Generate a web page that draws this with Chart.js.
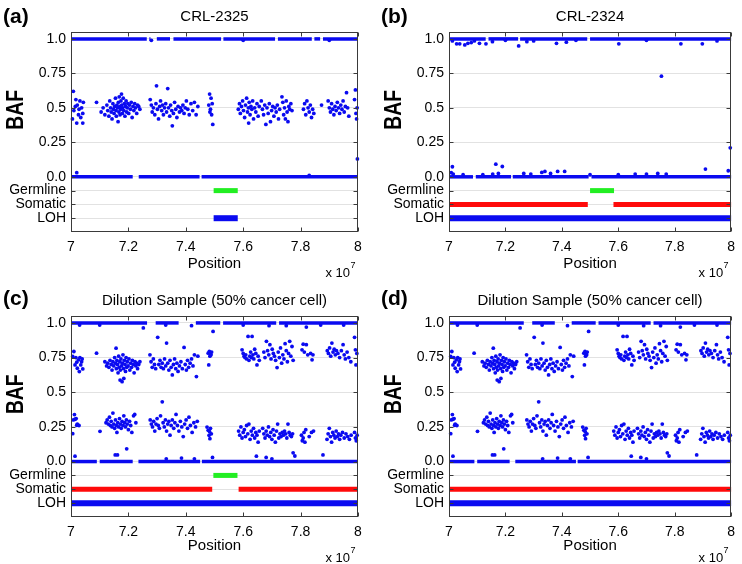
<!DOCTYPE html>
<html><head><meta charset="utf-8">
<script src="https://cdn.jsdelivr.net/npm/chart.js@4.4.1/dist/chart.umd.min.js"></script>
<style>
html,body{margin:0;padding:0;background:#fff;}
#wrap{position:relative;width:742px;height:564px;overflow:hidden;}
.p{position:absolute;width:371px;height:282px;}
</style></head><body>
<div id="wrap">
<div class="p" style="left:0;top:0"><canvas id="c0" width="371" height="282"></canvas></div>
<div class="p" style="left:371px;top:0"><canvas id="c1" width="371" height="282"></canvas></div>
<div class="p" style="left:0;top:282px"><canvas id="c2" width="371" height="282"></canvas></div>
<div class="p" style="left:371px;top:282px"><canvas id="c3" width="371" height="282"></canvas></div>
</div>
<script>
// ---------- axis ticks / labels ----------
const xTicks = [7, 7.2, 7.4, 7.6, 7.8, 8];
const xTickLabels = ['7', '7.2', '7.4', '7.6', '7.8', '8'];
const yTicks = [1.0, 0.75, 0.5, 0.25, 0.0, -0.1, -0.2, -0.3];
const yTickLabels = ['1.0', '0.75', '0.5', '0.25', '0.0', 'Germline', 'Somatic', 'LOH'];
const trackLevels = { Germline: -0.1, Somatic: -0.2, LOH: -0.3 };
const panelLetters = ['(a)', '(b)', '(c)', '(d)'];
const panelTitles = ['CRL-2325', 'CRL-2324', 'Dilution Sample (50% cancer cell)', 'Dilution Sample (50% cancer cell)'];

// ---------- panel (a) CRL-2325 ----------
const aTopRuns = [[7.000,7.264],[7.273,7.277],[7.299,7.345],[7.357,7.523],[7.531,7.711],[7.721,7.839],[7.848,7.868],[7.878,8.000]];
const aBottomRuns = [[7.000,7.215],[7.236,7.448],[7.455,8.000]];
const aPoints = [
7.008,0.62, 7.017,0.56, 7.022,0.52, 7.031,0.55, 7.037,0.50, 7.010,0.48, 7.026,0.45, 7.041,0.46, 7.005,0.42, 7.020,0.39, 7.041,0.39, 7.034,0.43, 7.015,0.51, 7.043,0.54, 7.028,0.49,
7.089,0.54,
7.105,0.47, 7.112,0.50, 7.118,0.45, 7.125,0.52, 7.128,0.48, 7.132,0.44, 7.135,0.55, 7.138,0.50, 7.140,0.47, 7.143,0.42, 7.146,0.53, 7.148,0.49, 7.150,0.46, 7.152,0.51, 7.155,0.57, 7.157,0.48, 7.158,0.44, 7.160,0.52, 7.162,0.50, 7.164,0.40, 7.165,0.54, 7.167,0.47, 7.168,0.58, 7.170,0.51, 7.171,0.45, 7.173,0.49, 7.174,0.55, 7.176,0.60, 7.177,0.52, 7.179,0.46, 7.180,0.50, 7.182,0.57, 7.184,0.48, 7.186,0.53, 7.188,0.44, 7.190,0.51, 7.192,0.55, 7.194,0.47, 7.196,0.50, 7.198,0.53, 7.201,0.46, 7.204,0.52, 7.207,0.49, 7.210,0.54, 7.213,0.43, 7.216,0.51, 7.219,0.48, 7.222,0.53, 7.225,0.50, 7.229,0.46, 7.232,0.52, 7.236,0.51, 7.240,0.49,
7.276,0.56, 7.280,0.52, 7.283,0.47, 7.287,0.50, 7.292,0.45, 7.296,0.53, 7.298,0.66, 7.301,0.49, 7.305,0.42, 7.309,0.51, 7.312,0.55, 7.316,0.48, 7.319,0.52, 7.322,0.45, 7.326,0.50, 7.330,0.53, 7.333,0.47, 7.337,0.64, 7.340,0.50, 7.344,0.44, 7.347,0.52, 7.351,0.48, 7.353,0.37, 7.357,0.46, 7.361,0.54, 7.365,0.49, 7.369,0.43, 7.373,0.51, 7.378,0.47, 7.382,0.50, 7.386,0.48, 7.390,0.52, 7.394,0.46, 7.398,0.50, 7.402,0.55, 7.407,0.49, 7.412,0.45, 7.418,0.53, 7.424,0.48, 7.430,0.54, 7.436,0.45, 7.442,0.51,
7.480,0.52, 7.483,0.60, 7.486,0.49, 7.488,0.57, 7.490,0.45, 7.492,0.53, 7.494,0.38, 7.484,0.47,
7.583,0.49, 7.587,0.53, 7.590,0.46, 7.594,0.51, 7.598,0.55, 7.601,0.48, 7.605,0.43, 7.608,0.52, 7.612,0.57, 7.615,0.47, 7.618,0.50, 7.621,0.54, 7.624,0.45, 7.627,0.51, 7.630,0.49, 7.633,0.55, 7.636,0.42, 7.640,0.50, 7.644,0.47, 7.648,0.53, 7.652,0.44, 7.656,0.51, 7.619,0.39,
7.663,0.55, 7.667,0.49, 7.671,0.45, 7.675,0.52, 7.679,0.38, 7.683,0.50, 7.687,0.46, 7.691,0.53, 7.695,0.40, 7.699,0.48, 7.703,0.51, 7.707,0.44, 7.711,0.50, 7.715,0.47, 7.719,0.52, 7.723,0.42, 7.727,0.49, 7.735,0.58, 7.738,0.54, 7.741,0.45, 7.744,0.50, 7.747,0.42, 7.750,0.55, 7.753,0.47, 7.756,0.40, 7.759,0.51, 7.762,0.49, 7.766,0.53, 7.770,0.48,
7.810,0.49, 7.814,0.53, 7.818,0.45, 7.822,0.55, 7.826,0.50, 7.830,0.47, 7.834,0.52, 7.838,0.43, 7.842,0.49, 7.846,0.46,
7.873,0.52,
7.896,0.55, 7.900,0.50, 7.904,0.47, 7.908,0.53, 7.912,0.49, 7.916,0.45, 7.920,0.51, 7.924,0.48, 7.928,0.54, 7.932,0.50, 7.936,0.46, 7.940,0.52, 7.944,0.49, 7.948,0.55, 7.952,0.47, 7.956,0.51, 7.960,0.61, 7.964,0.50, 7.968,0.44,
7.988,0.56, 7.991,0.63, 7.993,0.46, 7.995,0.42, 7.997,0.50,
7.020,0.03, 7.998,0.13, 7.830,0.01, 7.280,0.99, 7.600,0.99, 7.900,0.99
];
const aGermline = [[7.497,7.581]];
const aSomatic = [];
const aLOH = [[7.497,7.581]];

// ---------- panel (b) CRL-2324 ----------
const bTopRuns = [[7.000,7.130],[7.140,7.245],[7.252,7.490],[7.500,8.000]];
const bBottomRuns = [[7.000,7.085],[7.095,7.220],[7.226,7.495],[7.505,8.000]];
const bPoints = [
7.027,0.964, 7.038,0.964, 7.056,0.956, 7.067,0.968, 7.079,0.973, 7.108,0.968, 7.131,0.964, 7.154,0.980, 7.247,0.949, 7.276,0.980, 7.381,0.968, 7.416,0.976, 7.602,0.964, 7.822,0.964, 7.898,0.964,
7.012,0.985, 7.090,0.985, 7.200,0.990, 7.300,0.985, 7.450,0.990, 7.700,0.990, 7.950,0.985,
7.753,0.73,
7.012,0.073, 7.008,0.030, 7.015,0.020, 7.166,0.092, 7.189,0.075, 7.265,0.024, 7.290,0.020, 7.329,0.032, 7.340,0.039, 7.385,0.039, 7.410,0.039, 7.155,0.020, 7.175,0.025, 7.700,0.020, 7.770,0.020, 7.909,0.056, 7.990,0.044, 7.997,0.210, 7.600,0.015, 7.500,0.015, 7.050,0.015, 7.120,0.015, 7.360,0.025, 7.660,0.020, 7.740,0.025
];
const bGermline = [[7.500,7.585]];
const bSomatic = [[7.000,7.492],[7.583,8.000]];
const bLOH = [[7.000,8.000]];

// ---------- panels (c)/(d) dilution sample ----------
const cTopRuns = [[7.000,7.265],[7.295,7.375],[7.435,7.520],[7.530,7.715],[7.725,8.000]];
const cBottomRuns = [[7.000,7.090],[7.100,7.215],[7.235,7.450],[7.456,8.000]];
const cUpperPoints = [
7.010,0.794, 7.006,0.758, 7.017,0.750, 7.026,0.734, 7.031,0.750, 7.037,0.720, 7.014,0.697, 7.022,0.673, 7.029,0.649, 7.041,0.668, 7.034,0.697, 7.020,0.717, 7.039,0.740,
7.089,0.782,
7.118,0.72, 7.124,0.69, 7.128,0.71, 7.132,0.68, 7.136,0.73, 7.140,0.70, 7.143,0.66, 7.146,0.72, 7.149,0.69, 7.152,0.75, 7.155,0.71, 7.157,0.818, 7.158,0.67, 7.160,0.73, 7.162,0.70, 7.164,0.64, 7.166,0.76, 7.168,0.68, 7.170,0.72, 7.171,0.588, 7.172,0.66, 7.174,0.74, 7.176,0.69, 7.178,0.576, 7.179,0.71, 7.181,0.77, 7.183,0.67, 7.184,0.60, 7.186,0.73, 7.188,0.70, 7.190,0.65, 7.192,0.75, 7.194,0.68, 7.196,0.72, 7.199,0.69, 7.202,0.74, 7.205,0.66, 7.208,0.71, 7.211,0.68, 7.214,0.73, 7.217,0.70, 7.220,0.64, 7.223,0.72, 7.226,0.69, 7.229,0.71, 7.232,0.67, 7.236,0.70, 7.240,0.72,
7.275,0.77, 7.279,0.72, 7.283,0.68, 7.287,0.74, 7.291,0.70, 7.295,0.67, 7.302,0.896, 7.306,0.70, 7.310,0.73, 7.314,0.68, 7.318,0.71, 7.322,0.67, 7.326,0.74, 7.330,0.69, 7.333,0.855, 7.337,0.71, 7.341,0.66, 7.345,0.73, 7.349,0.68, 7.353,0.625, 7.357,0.70, 7.361,0.74, 7.365,0.67, 7.369,0.71, 7.373,0.65, 7.378,0.69, 7.383,0.72, 7.388,0.67, 7.394,0.823, 7.398,0.70, 7.402,0.66, 7.406,0.73, 7.410,0.68, 7.415,0.71, 7.420,0.74, 7.425,0.69, 7.430,0.77, 7.437,0.613, 7.442,0.76,
7.478,0.782, 7.482,0.794, 7.484,0.760, 7.486,0.775, 7.480,0.697, 7.488,0.770, 7.490,0.790, 7.495,0.939,
7.596,0.806, 7.600,0.78, 7.603,0.76, 7.606,0.75, 7.609,0.77, 7.612,0.74, 7.617,0.903, 7.620,0.73, 7.623,0.76, 7.626,0.79, 7.629,0.75, 7.631,0.903, 7.634,0.77, 7.637,0.74, 7.640,0.81, 7.644,0.78, 7.648,0.697, 7.652,0.76, 7.656,0.73,
7.672,0.79, 7.676,0.75, 7.681,0.867, 7.685,0.80, 7.689,0.77, 7.693,0.843, 7.697,0.74, 7.701,0.81, 7.705,0.78, 7.709,0.76, 7.713,0.73, 7.718,0.678, 7.722,0.79, 7.726,0.75, 7.730,0.82, 7.734,0.71, 7.738,0.77, 7.742,0.74, 7.746,0.85, 7.750,0.80, 7.754,0.72, 7.758,0.78, 7.762,0.867, 7.766,0.76, 7.770,0.83, 7.774,0.73,
7.805,0.806, 7.809,0.847, 7.813,0.79, 7.820,0.843, 7.825,0.77, 7.835,0.78, 7.840,0.734, 7.843,0.77,
7.893,0.80, 7.897,0.78, 7.901,0.82, 7.905,0.76, 7.909,0.855, 7.913,0.79, 7.917,0.81, 7.921,0.77, 7.925,0.80, 7.930,0.78, 7.936,0.75, 7.942,0.80, 7.948,0.843, 7.952,0.77, 7.956,0.74, 7.962,0.79, 7.968,0.75, 7.975,0.72, 7.988,0.896, 7.991,0.806, 7.993,0.697, 7.996,0.78
];
const cLowerPoints = [
7.008,0.30, 7.012,0.339, 7.014,0.305, 7.020,0.262, 7.022,0.27, 7.006,0.201, 7.018,0.31, 7.028,0.26,
7.101,0.218,
7.122,0.28, 7.126,0.30, 7.130,0.27, 7.134,0.32, 7.137,0.26, 7.140,0.29, 7.143,0.25, 7.146,0.35, 7.149,0.27, 7.152,0.24, 7.155,0.30, 7.158,0.26, 7.160,0.21, 7.163,0.28, 7.166,0.25, 7.169,0.31, 7.172,0.27, 7.175,0.24, 7.178,0.29, 7.181,0.26, 7.184,0.33, 7.187,0.28, 7.190,0.25, 7.193,0.30, 7.196,0.27, 7.200,0.23, 7.204,0.29, 7.208,0.26, 7.212,0.21, 7.218,0.33, 7.222,0.34, 7.226,0.28,
7.276,0.30, 7.280,0.27, 7.284,0.25, 7.288,0.29, 7.292,0.22, 7.296,0.27, 7.300,0.31, 7.304,0.26, 7.308,0.24, 7.312,0.33, 7.318,0.431, 7.321,0.28, 7.325,0.25, 7.329,0.30, 7.333,0.22, 7.337,0.27, 7.341,0.29, 7.345,0.19, 7.349,0.26, 7.353,0.30, 7.358,0.24, 7.362,0.28, 7.366,0.34, 7.371,0.26, 7.376,0.22, 7.381,0.29, 7.386,0.25, 7.391,0.18, 7.396,0.27, 7.401,0.30, 7.406,0.24, 7.411,0.32, 7.416,0.26, 7.422,0.21, 7.428,0.28, 7.434,0.25, 7.440,0.29,
7.474,0.249, 7.478,0.225, 7.481,0.189, 7.484,0.165, 7.486,0.24, 7.489,0.20, 7.483,0.215,
7.584,0.22, 7.588,0.19, 7.592,0.25, 7.596,0.17, 7.600,0.21, 7.604,0.23, 7.608,0.18, 7.612,0.26, 7.616,0.20, 7.620,0.27, 7.624,0.16, 7.628,0.22, 7.632,0.19, 7.636,0.24, 7.640,0.17, 7.644,0.21, 7.648,0.19, 7.652,0.14, 7.656,0.22,
7.668,0.24, 7.672,0.20, 7.676,0.17, 7.680,0.22, 7.684,0.19, 7.688,0.25, 7.692,0.18, 7.696,0.21, 7.700,0.16, 7.704,0.23, 7.708,0.19, 7.712,0.14, 7.716,0.22, 7.720,0.27, 7.724,0.17, 7.728,0.20, 7.732,0.18, 7.736,0.21, 7.740,0.19, 7.744,0.22, 7.748,0.20, 7.752,0.17, 7.756,0.27, 7.760,0.21, 7.764,0.19, 7.768,0.18, 7.772,0.20,
7.803,0.19, 7.806,0.15, 7.809,0.17, 7.812,0.21, 7.815,0.14, 7.818,0.23, 7.830,0.18, 7.838,0.21, 7.845,0.22,
7.892,0.16, 7.896,0.20, 7.900,0.24, 7.904,0.18, 7.908,0.14, 7.912,0.21, 7.916,0.19, 7.920,0.17, 7.924,0.22, 7.928,0.18, 7.932,0.20, 7.936,0.16, 7.940,0.19, 7.946,0.21, 7.952,0.17, 7.958,0.20, 7.964,0.18, 7.970,0.16, 7.976,0.19, 7.988,0.21, 7.991,0.17, 7.994,0.15, 7.997,0.19
];
const cEdgePoints = [
7.014,0.039, 7.154,0.048, 7.162,0.048, 7.194,0.092, 7.332,0.020, 7.385,0.025, 7.493,0.030, 7.646,0.039, 7.680,0.030, 7.774,0.063, 7.780,0.040, 7.878,0.048, 7.700,0.020, 7.430,0.020,
7.030,0.985, 7.100,0.985, 7.252,0.964, 7.330,0.985, 7.420,0.980, 7.600,0.985, 7.690,0.980, 7.750,0.980, 7.820,0.970, 7.870,0.985, 7.950,0.985
];
const cGermline = [[7.496,7.580]];
const cSomatic = [[7.000,7.492],[7.584,8.000]];
const cLOH = [[7.000,8.000]];
const dGermline = [];
const dSomatic = [[7.000,8.000]];
const dLOH = [[7.000,8.000]];

// ---------- styling / layout ----------
const BLUE = '#0a0af0', RED = '#ff0a0a', GREEN = '#22ee22';
const panelBox = [
  { left: 71, right: 358, top: 32, bottom: 232 },
  { left: 78, right: 365, top: 32, bottom: 232 },
  { left: 71, right: 358, top: 34, bottom: 235 },
  { left: 78, right: 365, top: 34, bottom: 235 }
];
const W = 371, H = 282;

function pairs(arr) { const o = []; for (let i = 0; i < arr.length; i += 2) o.push({ x: arr[i], y: arr[i + 1] }); return o; }
function runSets(runs, level, color, width) {
  return runs.map(r => ({
    data: [{ x: r[0], y: level }, { x: r[1], y: level }],
    showLine: true, borderColor: color, borderWidth: width, pointRadius: 0,
    borderCapStyle: 'butt', clip: false, order: 2
  }));
}

const decor = {
  id: 'decor',
  afterDraw(chart) {
    const o = chart.options.plugins.decor;
    const { ctx, chartArea: { left, right, top, bottom } } = chart;
    const xs = chart.scales.x, ys = chart.scales.y;
    ctx.save();
    ctx.strokeStyle = '#3a3a3a'; ctx.lineWidth = 1;
    const L = Math.round(left) + 0.5, R = Math.round(right) - 0.5, T = Math.round(top) + 0.5, B = Math.round(bottom) - 0.5;
    ctx.strokeRect(L, T, R - L, B - T);
    ctx.beginPath();
    xTicks.forEach(v => { const px = Math.round(xs.getPixelForValue(v)) + 0.5; ctx.moveTo(px, B); ctx.lineTo(px, B - 4); ctx.moveTo(px, T); ctx.lineTo(px, T + 4); });
    yTicks.forEach(v => { const py = Math.round(ys.getPixelForValue(v)) + 0.5; ctx.moveTo(L, py); ctx.lineTo(L + 4, py); ctx.moveTo(R, py); ctx.lineTo(R - 4, py); });
    ctx.stroke();
    ctx.fillStyle = '#000';
    ctx.font = 'bold 21px "Liberation Sans", Arial, sans-serif';
    ctx.textAlign = 'left'; ctx.textBaseline = 'middle';
    ctx.fillText(o.letter, left - 68, 17);
    ctx.font = '15px "Liberation Sans", Arial, sans-serif';
    ctx.textAlign = 'center';
    ctx.fillText(o.title, (left + right) / 2, top - 15);
    const cy = (ys.getPixelForValue(1) + ys.getPixelForValue(0)) / 2 + 2;
    ctx.save();
    ctx.translate(left - 55, cy);
    ctx.rotate(-Math.PI / 2);
    ctx.scale(0.84, 1);
    ctx.font = 'bold 23px "Liberation Sans", Arial, sans-serif';
    ctx.textAlign = 'center'; ctx.textBaseline = 'middle';
    ctx.fillText('BAF', 0, 1);
    ctx.restore();
    ctx.font = '13px "Liberation Sans", Arial, sans-serif';
    ctx.textAlign = 'right'; ctx.textBaseline = 'middle';
    ctx.fillText('x 10', right - 8, bottom + 41);
    ctx.font = '9px "Liberation Sans", Arial, sans-serif';
    ctx.textAlign = 'left';
    ctx.fillText('7', right - 7.5, bottom + 34);
    ctx.restore();
  }
};

function makePanel(idx, topRuns, bottomRuns, pointLists, germ, som, loh) {
  const box = panelBox[idx];
  const datasets = [];
  pointLists.forEach(pl => datasets.push({
    data: pairs(pl), pointRadius: 1.9, pointBackgroundColor: BLUE, pointBorderWidth: 0,
    showLine: false, clip: false, order: 1
  }));
  runSets(topRuns, 1, BLUE, 3.5).forEach(d => datasets.push(d));
  runSets(bottomRuns, 0, BLUE, 3.5).forEach(d => datasets.push(d));
  runSets(germ, trackLevels.Germline, GREEN, 5).forEach(d => datasets.push(d));
  runSets(som, trackLevels.Somatic, RED, 5).forEach(d => datasets.push(d));
  runSets(loh, trackLevels.LOH, BLUE, 6).forEach(d => datasets.push(d));

  new Chart(document.getElementById('c' + idx), {
    type: 'scatter',
    data: { datasets },
    options: {
      responsive: false, animation: false, devicePixelRatio: 1,
      layout: { padding: { left: 0, right: W - box.right, top: box.top, bottom: 0 } },
      plugins: {
        legend: { display: false }, tooltip: { enabled: false },
        decor: { letter: panelLetters[idx], title: panelTitles[idx] }
      },
      scales: {
        x: {
          type: 'linear', min: 7, max: 8,
          afterBuildTicks: s => { s.ticks = xTicks.map(v => ({ value: v })); },
          afterFit: s => { s.height = H - box.bottom; },
          grid: { display: false, drawTicks: false },
          border: { display: false },
          ticks: {
            autoSkip: false, maxRotation: 0, padding: 7, color: '#000',
            font: { family: '"Liberation Sans", Arial, sans-serif', size: 14 },
            callback: v => xTickLabels[xTicks.indexOf(v)]
          },
          title: {
            display: true, text: 'Position', color: '#000',
            font: { family: '"Liberation Sans", Arial, sans-serif', size: 15 },
            padding: { top: 0, bottom: 9 }
          }
        },
        y: {
          type: 'linear', min: -0.4, max: 1.05,
          afterBuildTicks: s => { s.ticks = yTicks.map(v => ({ value: v })); },
          afterFit: s => { s.width = box.left; },
          grid: { color: '#e2e2e2', lineWidth: 1, drawTicks: false },
          border: { display: false },
          ticks: {
            autoSkip: false, padding: 5, color: '#000',
            font: { family: '"Liberation Sans", Arial, sans-serif', size: 14 },
            callback: v => yTickLabels[yTicks.indexOf(v)]
          }
        }
      }
    },
    plugins: [decor]
  });
}

makePanel(0, aTopRuns, aBottomRuns, [aPoints], aGermline, aSomatic, aLOH);
makePanel(1, bTopRuns, bBottomRuns, [bPoints], bGermline, bSomatic, bLOH);
makePanel(2, cTopRuns, cBottomRuns, [cUpperPoints, cLowerPoints, cEdgePoints], cGermline, cSomatic, cLOH);
makePanel(3, cTopRuns, cBottomRuns, [cUpperPoints, cLowerPoints, cEdgePoints], dGermline, dSomatic, dLOH);
</script>
</body></html>
